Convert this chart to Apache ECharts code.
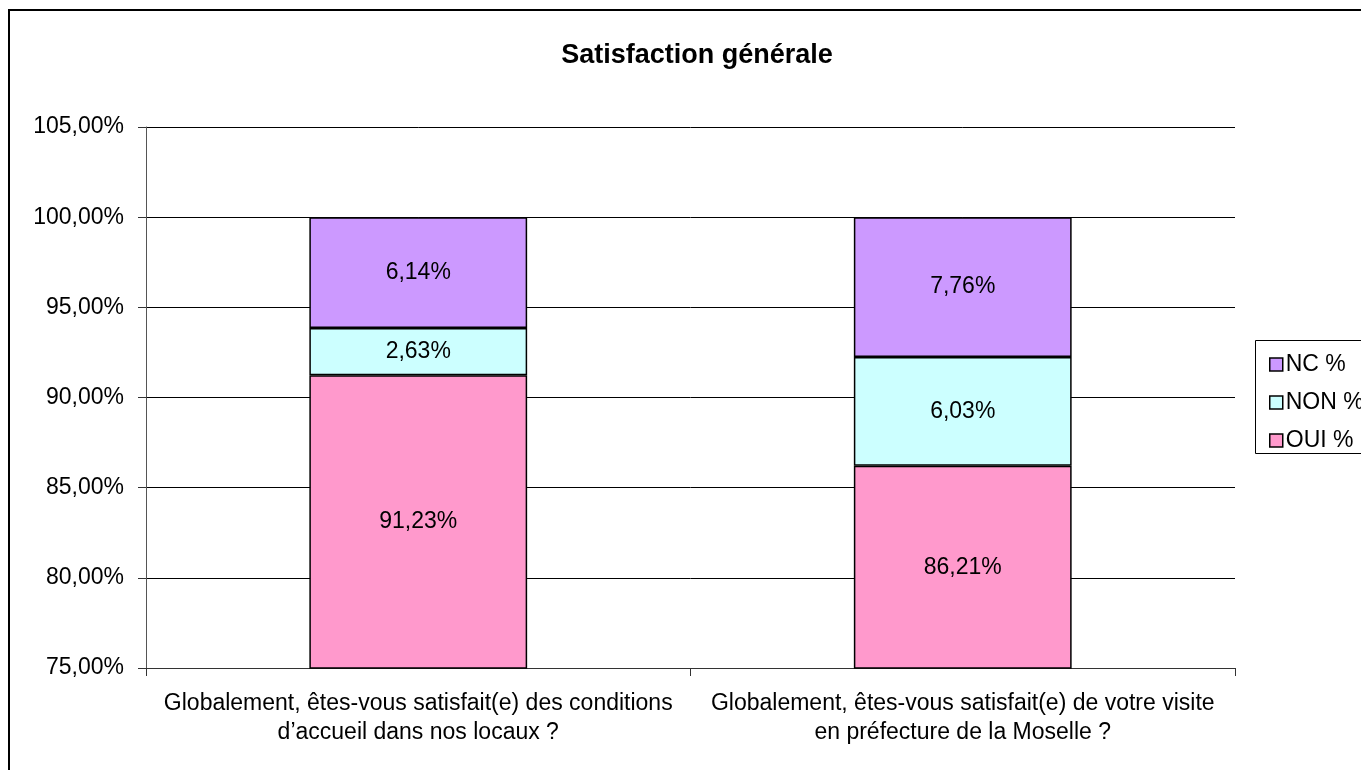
<!DOCTYPE html>
<html>
<head>
<meta charset="utf-8">
<script src="https://cdn.jsdelivr.net/npm/echarts@6/dist/echarts.min.js"></script>
<style>
html,body{margin:0;padding:0;background:#fff;}
#chart{width:1361px;height:770px;}
</style>
</head>
<body>
<div id="chart"></div>
<script>
var categories = [
  "Globalement, êtes-vous satisfait(e) des conditions\nd\u2019accueil dans nos locaux ?",
  "Globalement, êtes-vous satisfait(e) de votre visite\nen préfecture de la Moselle ?"
];
var ouiValues = [91.23, 86.21];
var nonValues = [2.63, 6.03];
var ncValues = [6.14, 7.76];
var seriesNames = ["OUI %", "NON %", "NC %"];
var yMin = 75, yMax = 105, yStep = 5;

function fmt(v) { return v.toFixed(2).replace('.', ',') + '%'; }
var FF = 'Liberation Sans, Arial, sans-serif';

var chart = echarts.init(document.getElementById('chart'));
var labelCfg = {
  show: true, position: 'inside', color: '#000',
  fontFamily: FF, fontSize: 23,
  formatter: function (p) { return fmt(p.value); }
};
function barSeries(name, data, color) {
  return {
    name: name, type: 'bar', stack: 'total', data: data,
    barCategoryGap: '60%',
    itemStyle: { color: color, borderColor: '#000', borderWidth: 1.5 },
    label: labelCfg,
    emphasis: { disabled: true }
  };
}
chart.setOption({
  animation: false,
  title: {
    text: 'Satisfaction générale', left: 692, textAlign: 'center', top: 37,
    textStyle: { fontFamily: FF, fontSize: 27, fontWeight: 'bold', color: '#000' }
  },
  graphic: [
    { type: 'rect', shape: { x: 9, y: 10, width: 1400, height: 800 }, style: { fill: 'none', stroke: '#000', lineWidth: 2 }, z: -10 },
    { type: 'rect', shape: { x: 1255.5, y: 340.5, width: 200, height: 113 }, style: { fill: '#fff', stroke: '#000', lineWidth: 1 }, z: -5 }
  ],
  legend: {
    orient: 'vertical', left: 1264, top: 348,
    data: ['NC %', 'NON %', 'OUI %'],
    icon: 'rect', itemWidth: 13, itemHeight: 13, itemGap: 15,
    itemStyle: { borderColor: '#000', borderWidth: 1.5 },
    textStyle: { fontFamily: FF, fontSize: 23, color: '#000', padding: [0, 0, 0, -2] },
    selectedMode: false
  },
  grid: { left: 146, right: 126, top: 127, bottom: 102, containLabel: false },
  xAxis: {
    type: 'category', data: categories,
    axisLine: { show: true, lineStyle: { color: '#333', width: 1 } },
    axisTick: { show: true, length: 8, lineStyle: { color: '#333' } },
    axisLabel: { color: '#000', fontFamily: FF, fontSize: 23, lineHeight: 29, margin: 21, interval: 0 }
  },
  yAxis: {
    type: 'value', min: yMin, max: yMax, interval: yStep,
    axisLine: { show: true, lineStyle: { color: '#555', width: 1 } },
    axisTick: { show: true, length: 8, lineStyle: { color: '#333' } },
    splitLine: { show: true, lineStyle: { color: '#000', width: 1 } },
    axisLabel: { color: '#000', fontFamily: FF, fontSize: 23, margin: 22, formatter: fmt }
  },
  series: [
    barSeries(seriesNames[0], ouiValues, '#FF99CC'),
    barSeries(seriesNames[1], nonValues, '#CCFFFF'),
    barSeries(seriesNames[2], ncValues, '#CC99FF')
  ]
});
</script>
</body>
</html>
